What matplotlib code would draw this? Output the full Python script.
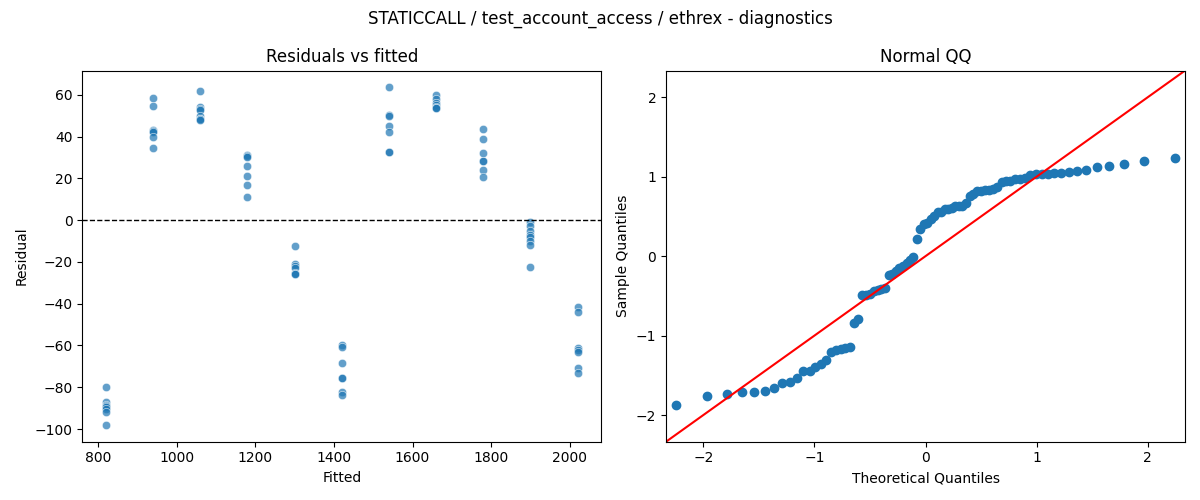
from statistics import NormalDist

import matplotlib

matplotlib.use("Agg")
import matplotlib.pyplot as plt
import numpy as np
import pandas as pd
import seaborn as sns

TITLE = "STATICCALL / test_account_access / ethrex - diagnostics"

# fitted value of each group and the residuals
FITTED = [820, 940, 1060, 1180, 1300, 1420, 1540, 1660, 1780, 1900, 2020]
RESIDUALS = [
    [-80, -87, -88.5, -89, -89.5, -90.5, -92, -98],
    [58.5, 54.5, 43, 42.5, 42, 40, 34.5],
    [62, 54, 53, 52.5, 50, 48.5, 48.5, 48],
    [31, 30.5, 30, 26, 21, 17, 11],
    [-12.5, -21, -22, -23, -25.5, -26, -26],
    [-60, -60.5, -68.5, -75.5, -75.5, -82.5, -83.5],
    [63.5, 50.5, 50, 45, 42, 32.5, 32.5],
    [60, 58, 56, 55, 54, 53.5, 53.5],
    [43.5, 39, 32, 28.5, 28.5, 24, 20.5],
    [-1, -3, -5, -7, -8, -10, -12, -22.5],
    [-41.5, -44, -61, -62, -63, -71, -73],
]


def build_frame() -> pd.DataFrame:
    rows = []
    for fit, res in zip(FITTED, RESIDUALS):
        for r in res:
            rows.append({"fitted": fit, "resid": r})
    return pd.DataFrame(rows)


def qq_points(values: np.ndarray) -> tuple[np.ndarray, np.ndarray]:
    z = np.sort((values - values.mean()) / values.std())
    n = len(z)
    dist = NormalDist()
    theo = np.array([dist.inv_cdf(i / (n + 1)) for i in range(1, n + 1)])
    return theo, z


def main() -> None:
    df = build_frame()
    fig, (ax1, ax2) = plt.subplots(1, 2, figsize=(12, 5))

    sns.scatterplot(data=df, x="fitted", y="resid", alpha=0.7, ax=ax1)
    ax1.axhline(0, color="black", linestyle="--", linewidth=1)
    ax1.set_title("Residuals vs fitted")
    ax1.set_xlabel("Fitted")
    ax1.set_ylabel("Residual")

    theo, sample = qq_points(df["resid"].to_numpy(dtype=float))
    ax2.margins(0.02)
    ax2.plot(theo, sample, marker="o", linestyle="none", color="C0")
    lo = min(ax2.get_xlim()[0], ax2.get_ylim()[0])
    hi = max(ax2.get_xlim()[1], ax2.get_ylim()[1])
    ax2.plot([lo, hi], [lo, hi], "r-")
    ax2.set_xlim(lo, hi)
    ax2.set_ylim(lo, hi)
    ax2.set_title("Normal QQ")
    ax2.set_xlabel("Theoretical Quantiles")
    ax2.set_ylabel("Sample Quantiles")

    fig.suptitle(TITLE)
    fig.tight_layout()
    fig.savefig("out.png", dpi=100)
    plt.close(fig)


if __name__ == "__main__":
    main()
